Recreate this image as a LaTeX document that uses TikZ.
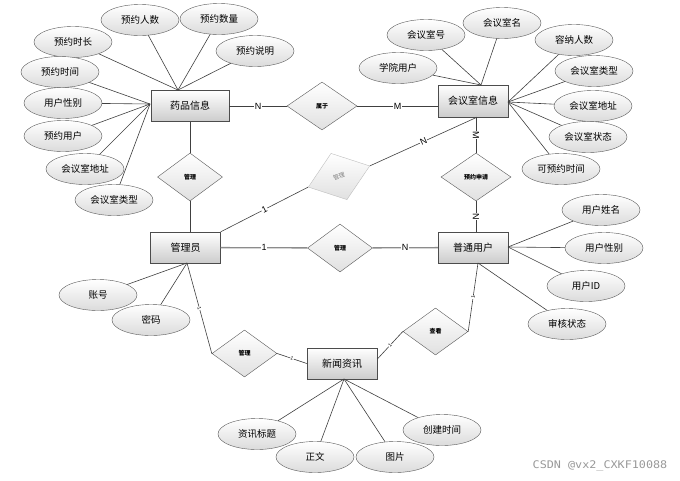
\documentclass[tikz,border=0pt]{standalone}
\usepackage{fontspec}
\setmainfont{Liberation Sans}
\newfontfamily\cjk{Noto Sans CJK SC}
\newfontfamily\wmfont{DejaVu Sans Mono}
\usetikzlibrary{shapes.geometric,calc}
\begin{document}
\begin{tikzpicture}[x=1pt,y=-1pt,
  ent/.style={draw=black!70, rectangle, minimum width=70pt, minimum height=31pt,
    top color=white, bottom color=black!20, inner sep=1pt,
    font=\cjk\fontsize{10}{12}\selectfont},
  attr/.style={draw=black!65, ellipse, minimum width=78pt, minimum height=31pt,
    top color=white, bottom color=black!14, inner sep=0pt,
    font=\cjk\fontsize{9.5}{11}\selectfont},
  rel/.style={draw=black!65, diamond, minimum width=65pt, minimum height=48pt,
    top color=white, bottom color=black!12, inner sep=0pt,
    font=\cjk\bfseries\fontsize{6}{7}\selectfont},
  ln/.style={draw=black!75, line width=0.6pt},
  gln/.style={draw=black!45, line width=1.3pt},
  card/.style={fill=white, inner sep=0.6pt, font=\fontsize{9}{10}\selectfont},
  tick/.style={fill=white, inner sep=0.3pt, sloped, font=\fontsize{5}{6}\selectfont}
]
\useasboundingbox (0,0) rectangle (680,480);
\fill[white] (0,0) rectangle (680,480);

% entities
\node[ent, minimum width=78pt] (yp) at (190,106) {药品信息};
\node[ent, minimum height=32pt] (hy) at (473,101) {会议室信息};
\node[ent] (gly) at (185.5,247.5) {管理员};
\node[ent] (pt) at (473,247.5) {普通用户};
\node[ent] (xw) at (342,363.5) {新闻资讯};

% relationships
\node[rel, minimum width=70pt] (sy) at (322,106) {属于};
\node[rel] (m1) at (190,177) {管理};
\node[rel, minimum width=70pt] (yy) at (476,177) {预约申请};
\node[rel] (m2) at (340,248) {管理};
\node[rel, minimum height=47pt] (m3) at (244.5,353.5) {管理};
\node[rel, minimum height=47pt] (ck) at (435.5,331.5) {查看};
\node[rel, rotate=19, minimum height=49pt, draw=black!25, text=black!50,
  font=\cjk\fontsize{6}{7}\selectfont] (gz) at (339,176.5) {管理};

% attributes of 药品信息
\node[attr] (a1) at (140,20) {预约人数};
\node[attr] (a2) at (219,19) {预约数量};
\node[attr] (a3) at (73,42) {预约时长};
\node[attr] (a4) at (255,51) {预约说明};
\node[attr] (a5) at (60,72) {预约时间};
\node[attr] (a6) at (63,103) {用户性别};
\node[attr] (a7) at (63,136) {预约用户};
\node[attr] (a8) at (85,169) {会议室地址};
\node[attr] (a9) at (114,200) {会议室类型};
\coordinate (ypT) at (178,90);
\coordinate (ypL) at (150,104);
\foreach \n in {a1,a2,a3,a4} \draw[ln] (\n) -- (ypT);
\foreach \n in {a5,a6,a7,a8,a9} \draw[ln] (\n) -- (ypL);

% attributes of 会议室信息
\node[attr] (b1) at (426,35) {会议室号};
\node[attr] (b2) at (502,23) {会议室名};
\node[attr] (b3) at (574,40) {容纳人数};
\node[attr] (b4) at (398,68) {学院用户};
\node[attr] (b5) at (594,71) {会议室类型};
\node[attr] (b6) at (593,106) {会议室地址};
\node[attr] (b7) at (588,137) {会议室状态};
\node[attr] (b8) at (561,169) {可预约时间};
\coordinate (hyT) at (481,85);
\coordinate (hyR) at (508,102);
\foreach \n in {b1,b2,b4} \draw[ln] (\n) -- (hyT);
\foreach \n in {b3,b5,b6,b7,b8} \draw[ln] (\n) -- (hyR);

% attributes of 普通用户
\node[attr] (c1) at (601,210) {用户姓名};
\node[attr] (c2) at (604,248) {用户性别};
\node[attr] (c3) at (586,286) {用户ID};
\node[attr] (c4) at (567,324) {审核状态};
\coordinate (ptR) at (508,247);
\coordinate (ptB) at (478,263);
\foreach \n in {c1,c2,c3} \draw[ln] (\n) -- (ptR);
\draw[ln] (c4) -- (ptB);

% attributes of 管理员
\node[attr] (d1) at (98,295) {账号};
\node[attr] (d2) at (151,320) {密码};
\coordinate (glyB) at (187,263);
\draw[ln] (d1) -- (glyB);
\draw[ln] (d2) -- (glyB);

% attributes of 新闻资讯
\node[attr] (e1) at (257,434) {资讯标题};
\node[attr] (e2) at (315,457) {正文};
\node[attr] (e3) at (395,457) {图片};
\node[attr] (e4) at (442,430) {创建时间};
\coordinate (xwB) at (344,379);
\foreach \n in {e1,e2,e3,e4} \draw[ln] (\n) -- (xwB);

% relationship connectors
\draw[ln] (yp) -- node[card] {N} (sy);
\draw[ln] (sy.east) -- node[card] {M} (sy.east -| hy.west);
\draw[ln] (yp) -- (m1);
\draw[ln] (m1.south) -- (m1.south |- gly.north);
\draw[ln] (yy.north |- hy.south) -- node[card, sloped] {M} (yy.north);
\draw[ln] (yy.south) -- node[card, sloped] {N} (yy.south |- pt.north);
\draw[gln] (gly) -- node[card] {1} (m2);
\draw[gln] (m2) -- node[card] {N} (pt);
\draw[ln] (gly.north east) -- node[card, sloped] {1} (gz.west);
\draw[ln] (gz.east) -- node[card, sloped] {N} ($(hy.south)+(4,0)$);
\draw[ln] (glyB) -- node[tick] {1} (m3.west);
\draw[ln] (m3.east) -- node[tick] {1} (xw.west);
\draw[ln] (xw.7) -- node[tick] {1} (ck.west);
\draw[ln] (ck.east) -- node[tick] {1} (ptB);

% watermark
\node[text=black!40, font=\wmfont\fontsize{10.5}{12}\selectfont, xscale=1.12] (wm) at (600,466) {CSDN @vx2\_CXKF10088};
\end{tikzpicture}
\end{document}
